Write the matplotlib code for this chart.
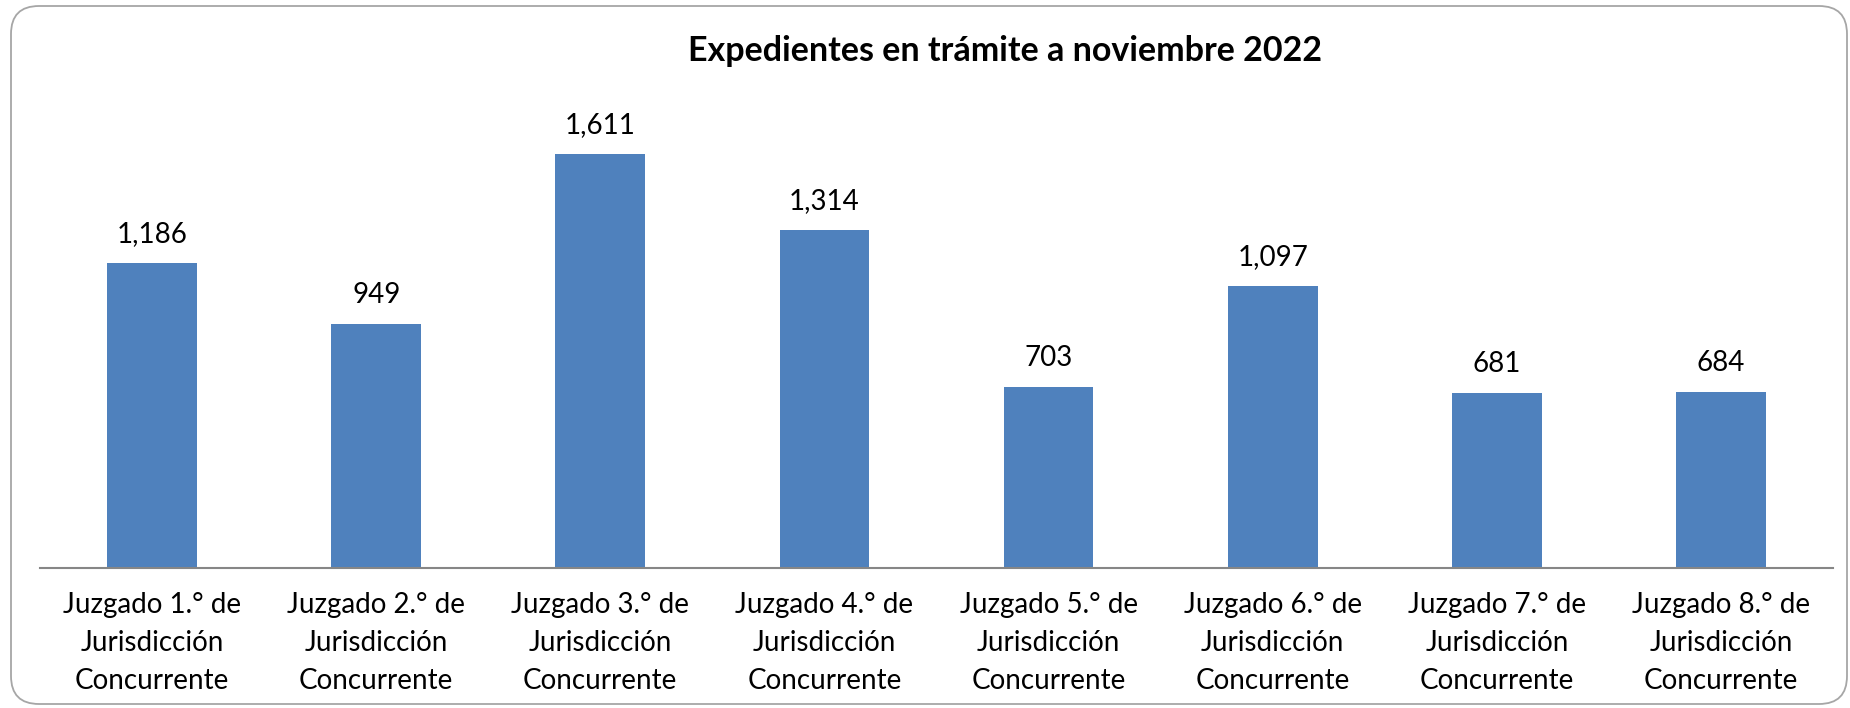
import numpy as np
import matplotlib
matplotlib.use("Agg")
import matplotlib.pyplot as plt
from matplotlib.patches import FancyBboxPatch

plt.rcParams['font.family'] = ['Lato', 'DejaVu Sans']

# data
juzgados = ['Juzgado 1.° de\nJurisdicción\nConcurrente',
            'Juzgado 2.° de\nJurisdicción\nConcurrente',
            'Juzgado 3.° de\nJurisdicción\nConcurrente',
            'Juzgado 4.° de\nJurisdicción\nConcurrente',
            'Juzgado 5.° de\nJurisdicción\nConcurrente',
            'Juzgado 6.° de\nJurisdicción\nConcurrente',
            'Juzgado 7.° de\nJurisdicción\nConcurrente',
            'Juzgado 8.° de\nJurisdicción\nConcurrente']
expedientes = [1186, 949, 1611, 1314, 703, 1097, 681, 684]
titulo = 'Expedientes en trámite a noviembre 2022'

W, H = 1850, 708
fig = plt.figure(figsize=(W/100, H/100), dpi=100)

# background frame with rounded corners (pixel coords)
bg = fig.add_axes([0, 0, 1, 1])
bg.set_xlim(0, W)
bg.set_ylim(H, 0)
bg.axis('off')
frame = FancyBboxPatch((11, 6), 1836, 698, boxstyle="round,pad=0,rounding_size=28",
                       fc='white', ec='#A6A6A6', lw=1.3)
bg.add_patch(frame)

ax = fig.add_axes([40/W, 1-568/H, (1833-40)/W, (568-105)/H])
ax.patch.set_alpha(0)
x = np.arange(len(expedientes))
bars = ax.bar(x, expedientes, width=0.40, color='#4F81BD')
ax.set_xlim(-0.5, len(expedientes)-0.5)
ax.set_ylim(0, 1800)
for xi, v in zip(x, expedientes):
    ax.text(xi, v + 112, f'{v:,}', ha='center', va='center', fontsize=20, color='black')

ax.set_xticks(x)
ax.set_xticklabels(juzgados, fontsize=20, linespacing=1.58)
ax.tick_params(axis='x', length=0, pad=17)
ax.set_yticks([])
for s in ['top', 'right', 'left']:
    ax.spines[s].set_visible(False)
ax.spines['bottom'].set_color('#868686')
ax.spines['bottom'].set_linewidth(1.5)

fig.text(0.5 + 80/W, 1-51/H, titulo, ha='center', va='center', fontsize=24.5, fontweight='bold')

fig.savefig('out.png', dpi=100)
